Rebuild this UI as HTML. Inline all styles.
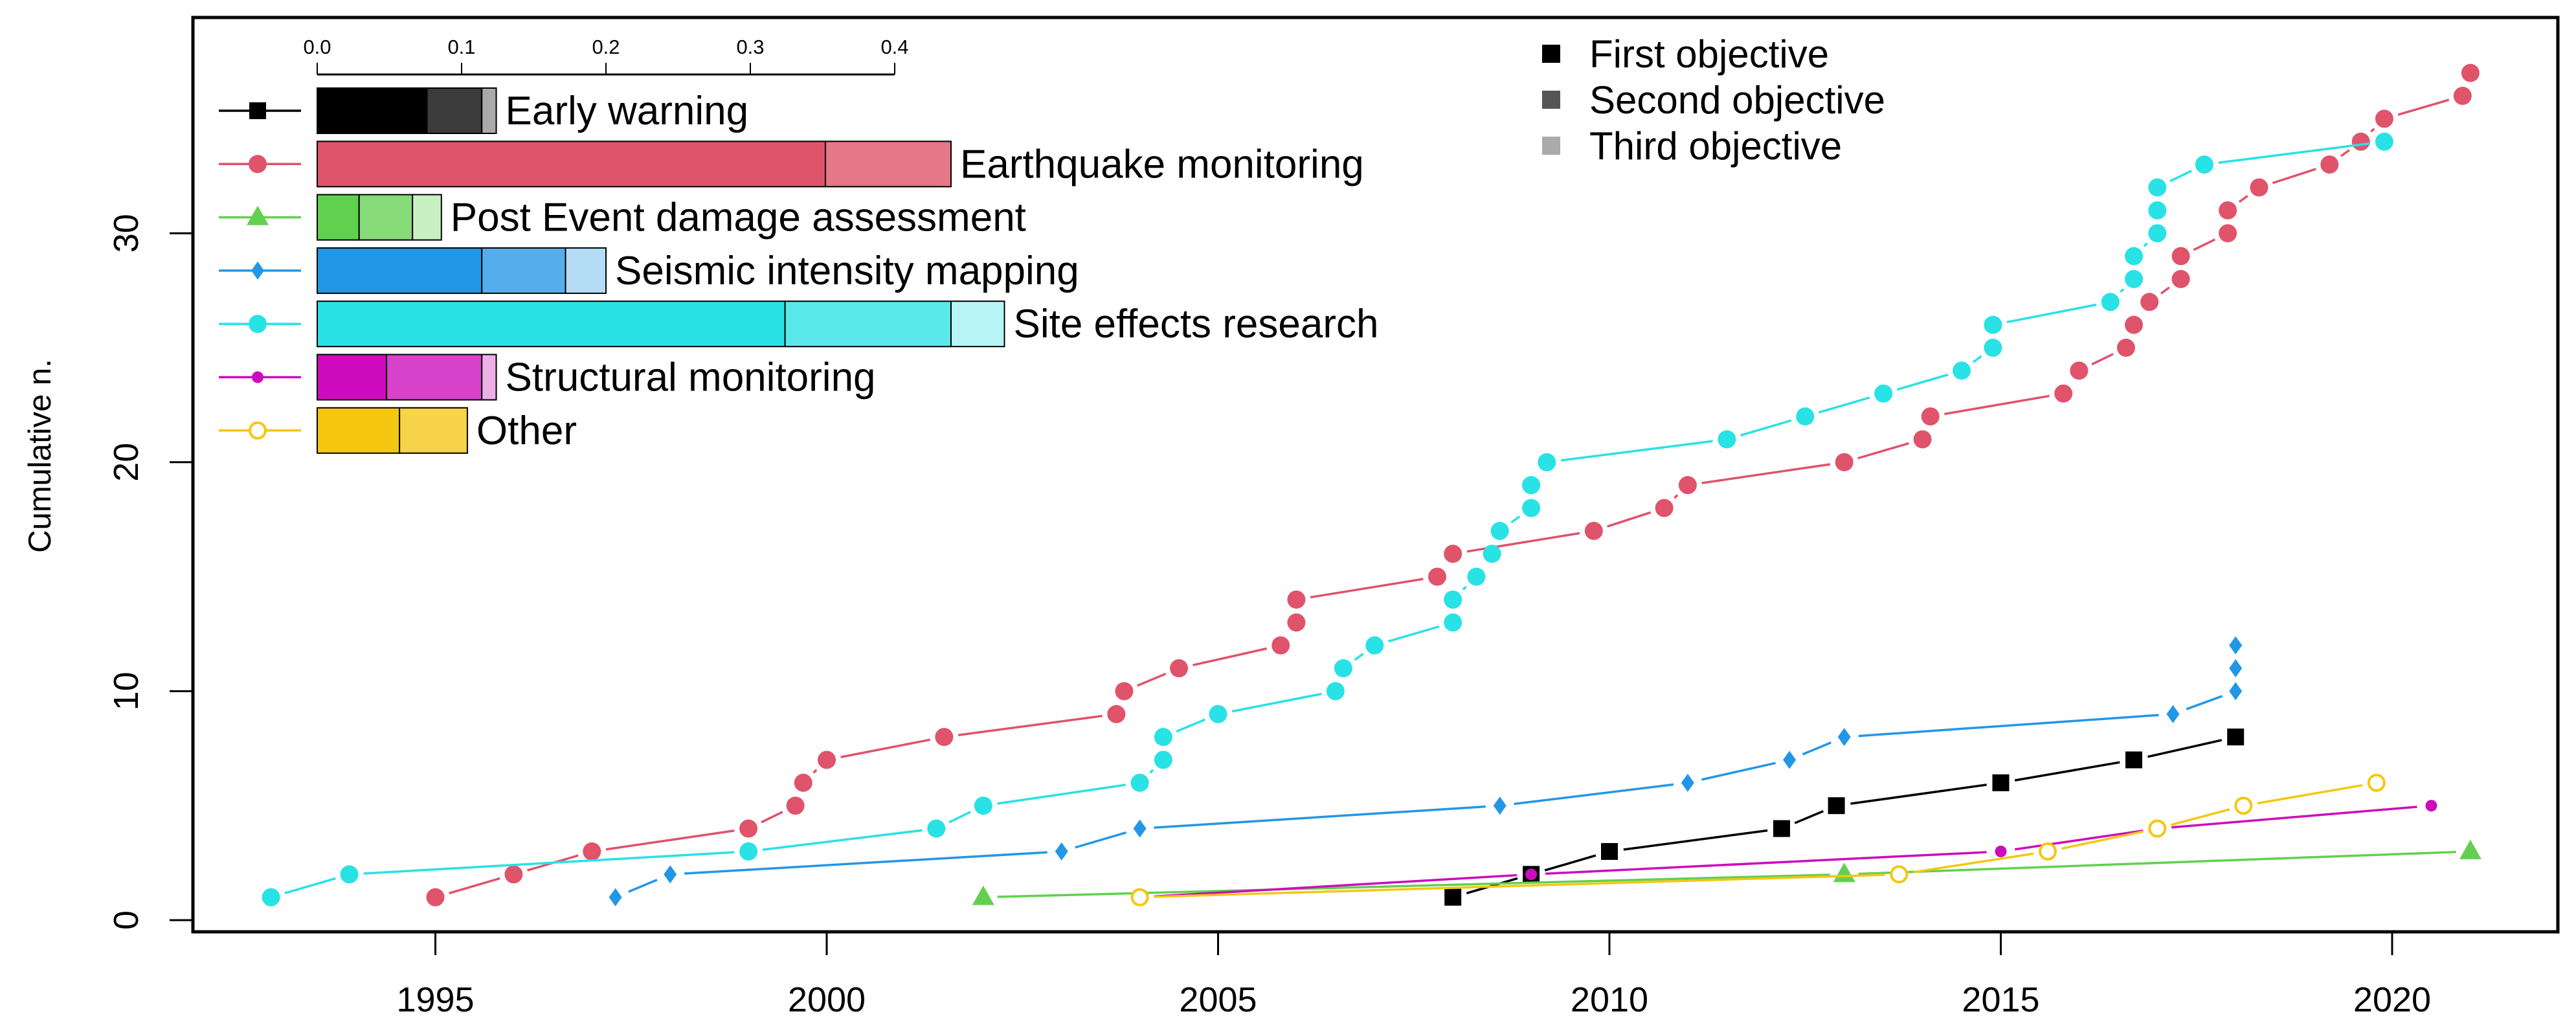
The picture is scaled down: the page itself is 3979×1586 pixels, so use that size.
<!DOCTYPE html>
<html><head><meta charset="utf-8"><style>
html,body{margin:0;padding:0;background:#fff;}
svg{display:block;font-family:"Liberation Sans",Arial,sans-serif;}
</style></head><body>
<svg id="chart" width="3979" height="1586" viewBox="0 0 3979 1586" xmlns="http://www.w3.org/2000/svg">
<rect x="0" y="0" width="3979" height="1586" fill="#fff"/>
<g id="plot"></g>
</svg>
<script>
// ---- data ----
const ewYears=[2008.0,2009.0,2010.0,2012.2,2012.9,2015.0,2016.7,2018.0];
const ewCounts=[1,2,3,4,5,6,7,8];
const eqYears=[1995.0,1996.0,1997.0,1999.0,1999.6,1999.7,2000.0,2001.5,2003.7,2003.8,2004.5,2005.8,2006.0,2006.0,2007.8,2008.0,2009.8,2010.7,2011.0,2013.0,2014.0,2014.1,2015.8,2016.0,2016.6,2016.7,2016.9,2017.3,2017.3,2017.9,2017.9,2018.3,2019.2,2019.6,2019.9,2020.9,2021.0];
const eqCounts=[1,2,3,4,5,6,7,8,9,10,11,12,13,14,15,16,17,18,19,20,21,22,23,24,25,26,27,28,29,30,31,32,33,34,35,36,37];
const peYears=[2002.0,2013.0,2021.0];
const peCounts=[1,2,3];
const siYears=[1997.3,1998.0,2003.0,2004.0,2008.6,2011.0,2012.3,2013.0,2017.2,2018.0,2018.0,2018.0];
const siCounts=[1,2,3,4,5,6,7,8,9,10,11,12];
const seYears=[1992.9,1993.9,1999.0,2001.4,2002.0,2004.0,2004.3,2004.3,2005.0,2006.5,2006.6,2007.0,2008.0,2008.0,2008.3,2008.5,2008.6,2009.0,2009.0,2009.2,2011.5,2012.5,2013.5,2014.5,2014.9,2014.9,2016.4,2016.7,2016.7,2017.0,2017.0,2017.0,2017.6,2019.9];
const seCounts=[1,2,3,4,5,6,7,8,9,10,11,12,13,14,15,16,17,18,19,20,21,22,23,24,25,26,27,28,29,30,31,32,33,34];
const smYears=[2004.0,2009.0,2015.0,2017.0,2020.5];
const smCounts=[1,2,3,4,5];
const otYears=[2004.0,2013.7,2015.6,2017.0,2018.1,2019.8];
const otCounts=[1,2,3,4,5,6];
const xTicks=[1995,2000,2005,2010,2015,2020];
const yTicks=[0,10,20,30];
const barTicks=[0.0,0.1,0.2,0.3,0.4];
const barTickLabels=["0.0","0.1","0.2","0.3","0.4"];
const categories=["Early warning","Earthquake monitoring","Post Event damage assessment","Seismic intensity mapping","Site effects research","Structural monitoring","Other"];
const firstObj=[0.076,0.352,0.029,0.114,0.324,0.048,0.057];
const secondObj=[0.038,0.087,0.037,0.058,0.115,0.066,0.047];
const thirdObj=[0.010,0.0,0.020,0.028,0.037,0.010,0.0];

// ---- layout ----
const NS="http://www.w3.org/2000/svg";
const g=document.getElementById('plot');
const X=y=>672.5+(y-1995)*120.9;
const Y=v=>1421-v*35.36;
const BX=v=>490+v*2230;
function el(tag,attrs,parent){const e=document.createElementNS(NS,tag);for(const k in attrs)e.setAttribute(k,attrs[k]);(parent||g).appendChild(e);return e;}

const box=el('rect',{x:298,y:27,width:3653,height:1412,fill:'none',stroke:'#000','stroke-width':5});



xTicks.forEach(t=>{
  const l=el('line',{x1:X(t),x2:X(t),y1:1439,y2:1475,stroke:'#000','stroke-width':3});
  
  
  const tx=el('text',{x:X(t),y:1562,'font-size':54,'text-anchor':'middle'});
  tx.textContent=t;
  
  
});
yTicks.forEach(t=>{
  const l=el('line',{x1:262,x2:298,y1:Y(t),y2:Y(t),stroke:'#000','stroke-width':3});
  
  
  const tx=el('text',{x:0,y:0,'font-size':54,'text-anchor':'middle',transform:`translate(213,${Y(t)}) rotate(-90)`});
  tx.textContent=t;
  
  
});
const yl=el('text',{x:0,y:0,'font-size':49,'text-anchor':'middle',transform:'translate(78,704) rotate(-90)'});
yl.textContent='Cumulative n.';



function marker(type,col,cx,cy,parent){
  let m;
  if(type==='square') m=el('rect',{x:cx-13,y:cy-13,width:26,height:26,fill:col},parent);
  else if(type==='circle') m=el('circle',{cx,cy,r:14,fill:col},parent);
  else if(type==='small') m=el('circle',{cx,cy,r:9,fill:col},parent);
  else if(type==='open') m=el('circle',{cx,cy,r:12,fill:'#fff',stroke:col,'stroke-width':4},parent);
  else if(type==='tri') m=el('polygon',{points:`${cx},${cy-18} ${cx-17},${cy+12} ${cx+17},${cy+12}`,fill:col},parent);
  else if(type==='diamond') m=el('polygon',{points:`${cx},${cy-14} ${cx+10},${cy} ${cx},${cy+14} ${cx-10},${cy}`,fill:col},parent);
  return m;
}
const series=[
 {name:'early-warning',xs:ewYears,ys:ewCounts,col:'#000000',type:'square'},
 {name:'earthquake-monitoring',xs:eqYears,ys:eqCounts,col:'#DF536B',type:'circle'},
 {name:'post-event-damage',xs:peYears,ys:peCounts,col:'#61D04F',type:'tri'},
 {name:'seismic-intensity',xs:siYears,ys:siCounts,col:'#2297E6',type:'diamond'},
 {name:'site-effects',xs:seYears,ys:seCounts,col:'#28E2E5',type:'circle'},
 {name:'structural-monitoring',xs:smYears,ys:smCounts,col:'#CD0BBC',type:'small'},
 {name:'other',xs:otYears,ys:otCounts,col:'#F5C710',type:'open'}
];
series.forEach(s=>{
  const sg=el('g',{});
  
  
  for(let i=0;i<s.xs.length-1;i++){
    const x1=X(s.xs[i]),y1=Y(s.ys[i]),x2=X(s.xs[i+1]),y2=Y(s.ys[i+1]);
    const d=Math.hypot(x2-x1,y2-y1),gap=22;
    if(d>2*gap){
      const ux=(x2-x1)/d,uy=(y2-y1)/d;
      const ln=el('line',{x1:x1+ux*gap,y1:y1+uy*gap,x2:x2-ux*gap,y2:y2-uy*gap,stroke:s.col,'stroke-width':3.5},sg);
      
      
    }
  }
  for(let i=0;i<s.xs.length;i++){
    const m=marker(s.type,s.col,X(s.xs[i]),Y(s.ys[i]),sg);
    
    
  }
});

const ax=el('line',{x1:BX(0),x2:BX(0.4),y1:115,y2:115,stroke:'#000','stroke-width':3});


barTicks.forEach((t,i)=>{
  const l=el('line',{x1:BX(t),x2:BX(t),y1:97,y2:115,stroke:'#000','stroke-width':2});
  
  
  const tx=el('text',{x:BX(t),y:83,'font-size':31,'text-anchor':'middle'});
  tx.textContent=barTickLabels[i];
  
  
});
const shades=[
 ['#000000','#3B3B3B','#AAAAAA'],
 ['#DF536B','#E57788','#F0B0BA'],
 ['#61D04F','#87DB79','#C9F0C2'],
 ['#2297E6','#55AEEB','#B5DCF6'],
 ['#28E2E5','#5BE8EA','#B8F5F6'],
 ['#CD0BBC','#D843CB','#EDB0E7'],
 ['#F5C710','#F6D348','#F9E596']
];
categories.forEach((c,i)=>{
  const top=136+i*82.3,h=70,cy=top+h/2;
  const vals=[firstObj[i],secondObj[i],thirdObj[i]];
  let acc=0;
  vals.forEach((v,j)=>{
    if(v<=0) return;
    const r=el('rect',{x:BX(acc),y:top,width:BX(acc+v)-BX(acc),height:h,fill:shades[i][j],stroke:'#000','stroke-width':2});
    
    
    acc+=v;
  });
  const lt=el('text',{x:BX(acc)+14,y:cy+21,'font-size':62});
  lt.textContent=c;
  
  
  const ll=el('line',{x1:338,x2:465,y1:cy,y2:cy,stroke:series[i].col,'stroke-width':3.5});
  
  
  const lm=marker(series[i].type,series[i].col,398,cy);
  
  
});

const objLabels=['First objective','Second objective','Third objective'];
const objCols=['#000000','#555555','#AAAAAA'];
objLabels.forEach((t,i)=>{
  const cy=83+i*71;
  const r=el('rect',{x:2382,y:cy-14,width:28,height:28,fill:objCols[i]});
  
  
  const tx=el('text',{x:2455,y:cy+21,'font-size':60});
  tx.textContent=t;
  
  
});
</script>
</body></html>
